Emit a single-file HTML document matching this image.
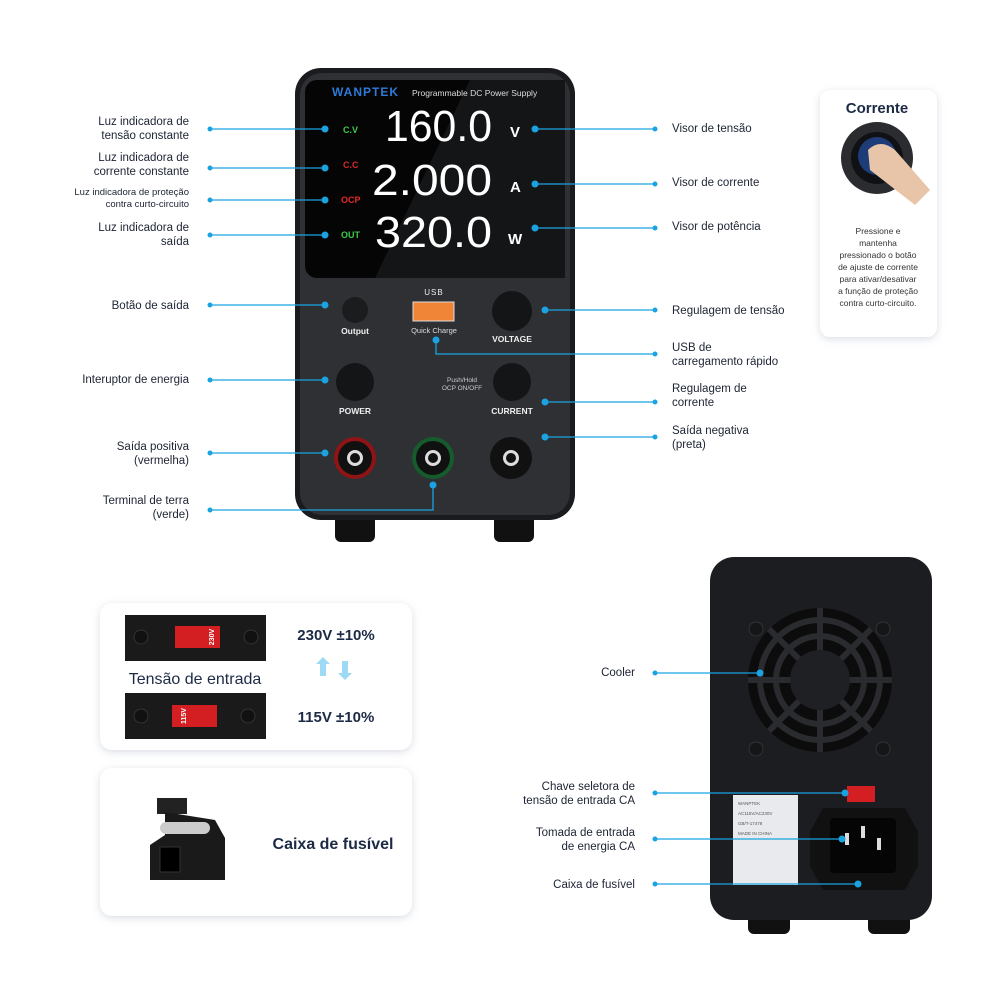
<!DOCTYPE html>
<html><head><meta charset="utf-8"><style>
html,body{margin:0;padding:0;background:#fff;}
svg{display:block;font-family:"Liberation Sans",sans-serif;}
.l{font-size:11.5px;fill:#1c2333;}
.ln{stroke:#1aa3e0;stroke-width:1.3;fill:none;}
.d{fill:#1aa3e0;}
</style></head><body>
<svg width="1000" height="1000" viewBox="0 0 1000 1000">
<defs>
<filter id="sh" x="-10%" y="-10%" width="120%" height="130%"><feDropShadow dx="0" dy="2" stdDeviation="4" flood-color="#8090a8" flood-opacity="0.3"/></filter>
</defs>
<!-- FRONT DEVICE -->
<rect x="335" y="510" width="40" height="32" rx="6" fill="#111"/>
<rect x="494" y="510" width="40" height="32" rx="6" fill="#111"/>
<rect x="295" y="68" width="280" height="452" rx="26" fill="#1a1b1e"/>
<rect x="300" y="73" width="270" height="442" rx="22" fill="#2e3034"/>
<rect x="305" y="80" width="260" height="198" rx="12" fill="#050506"/>
<polygon points="470,80 565,80 565,278 375,278" fill="#141517"/>
<text x="332" y="96" font-size="12" fill="#2f7ad8" font-weight="bold" letter-spacing="1">WANPTEK</text>
<text x="412" y="96" font-size="8.5" fill="#ddd">Programmable DC Power Supply</text>
<text x="343" y="133" font-size="9" fill="#3ec94a" font-weight="bold">C.V</text>
<text x="343" y="168" font-size="9" fill="#d72a2a" font-weight="bold">C.C</text>
<text x="341" y="203" font-size="9" fill="#e42a2a" font-weight="bold">OCP</text>
<text x="341" y="238" font-size="9" fill="#3ec94a" font-weight="bold">OUT</text>
<g font-family="Liberation Sans,sans-serif" fill="#fff" font-size="44">
<text x="385" y="141" textLength="107" lengthAdjust="spacingAndGlyphs">160.0</text>
<text x="372" y="195" textLength="120" lengthAdjust="spacingAndGlyphs">2.000</text>
<text x="375" y="247" textLength="117" lengthAdjust="spacingAndGlyphs">320.0</text>
</g>
<text x="510" y="137" font-size="15" fill="#fff" font-weight="bold">V</text>
<text x="510" y="192" font-size="15" fill="#fff" font-weight="bold">A</text>
<text x="508" y="244" font-size="15" fill="#fff" font-weight="bold">W</text>
<circle cx="355" cy="310" r="13" fill="#1b1c1e"/>
<text x="355" y="334" font-size="8.5" fill="#eee" text-anchor="middle" font-weight="bold">Output</text>
<text x="434" y="295" font-size="8" fill="#eee" text-anchor="middle" letter-spacing="1">USB</text>
<rect x="413" y="302" width="41" height="19" fill="#f08538" stroke="#ddd" stroke-width="1"/>
<text x="434" y="333" font-size="7.5" fill="#ddd" text-anchor="middle">Quick Charge</text>
<circle cx="512" cy="311" r="20" fill="#141517"/>
<text x="512" y="342" font-size="8.5" fill="#eee" text-anchor="middle" font-weight="bold">VOLTAGE</text>
<circle cx="355" cy="382" r="19" fill="#141517"/>
<text x="355" y="414" font-size="8.5" fill="#eee" text-anchor="middle" font-weight="bold">POWER</text>
<text x="462" y="382" font-size="6.5" fill="#ccc" text-anchor="middle">Push/Hold</text>
<text x="462" y="390" font-size="6.5" fill="#ccc" text-anchor="middle">OCP ON/OFF</text>
<circle cx="512" cy="382" r="19" fill="#141517"/>
<text x="512" y="414" font-size="8.5" fill="#eee" text-anchor="middle" font-weight="bold">CURRENT</text>
<g>
<circle cx="355" cy="458" r="21" fill="#8e1416"/><circle cx="355" cy="458" r="17" fill="#111"/><circle cx="355" cy="458" r="8" fill="#ddd"/><circle cx="355" cy="458" r="5" fill="#111"/>
<circle cx="433" cy="458" r="21" fill="#155b2c"/><circle cx="433" cy="458" r="17" fill="#111"/><circle cx="433" cy="458" r="8" fill="#ddd"/><circle cx="433" cy="458" r="5" fill="#111"/>
<circle cx="511" cy="458" r="21" fill="#111"/><circle cx="511" cy="458" r="8" fill="#ddd"/><circle cx="511" cy="458" r="5" fill="#111"/>
</g>
<g class="ln">
<path d="M210 129H325M210 168H325M210 200H325M210 235H325M210 305H325M210 380H325M210 453H325M210 510H433V485"/>
<path d="M535 129H655M535 184H655M535 228H655M545 310H655M436 340V354H655M545 402H655M545 437H655"/>
</g>
<g class="d">
<circle cx="210" cy="129" r="2.5"/><circle cx="325" cy="129" r="3.5"/>
<circle cx="210" cy="168" r="2.5"/><circle cx="325" cy="168" r="3.5"/>
<circle cx="210" cy="200" r="2.5"/><circle cx="325" cy="200" r="3.5"/>
<circle cx="210" cy="235" r="2.5"/><circle cx="325" cy="235" r="3.5"/>
<circle cx="210" cy="305" r="2.5"/><circle cx="325" cy="305" r="3.5"/>
<circle cx="210" cy="380" r="2.5"/><circle cx="325" cy="380" r="3.5"/>
<circle cx="210" cy="453" r="2.5"/><circle cx="325" cy="453" r="3.5"/>
<circle cx="210" cy="510" r="2.5"/><circle cx="433" cy="485" r="3.5"/>
<circle cx="535" cy="129" r="3.5"/><circle cx="655" cy="129" r="2.5"/>
<circle cx="535" cy="184" r="3.5"/><circle cx="655" cy="184" r="2.5"/>
<circle cx="535" cy="228" r="3.5"/><circle cx="655" cy="228" r="2.5"/>
<circle cx="545" cy="310" r="3.5"/><circle cx="655" cy="310" r="2.5"/>
<circle cx="436" cy="340" r="3.5"/><circle cx="655" cy="354" r="2.5"/>
<circle cx="545" cy="402" r="3.5"/><circle cx="655" cy="402" r="2.5"/>
<circle cx="545" cy="437" r="3.5"/><circle cx="655" cy="437" r="2.5"/>
</g>
<g class="l" text-anchor="end">
<text x="189" y="125">Luz indicadora de</text><text x="189" y="139">tensão constante</text>
<text x="189" y="161">Luz indicadora de</text><text x="189" y="175">corrente constante</text>
<text x="189" y="195" font-size="9.5">Luz indicadora de proteção</text><text x="189" y="207" font-size="9.5">contra curto-circuito</text>
<text x="189" y="231">Luz indicadora de</text><text x="189" y="245">saída</text>
<text x="189" y="309">Botão de saída</text>
<text x="189" y="383">Interuptor de energia</text>
<text x="189" y="450">Saída positiva</text><text x="189" y="464">(vermelha)</text>
<text x="189" y="504">Terminal de terra</text><text x="189" y="518">(verde)</text>
</g>
<g class="l">
<text x="672" y="132">Visor de tensão</text>
<text x="672" y="186">Visor de corrente</text>
<text x="672" y="230">Visor de potência</text>
<text x="672" y="314">Regulagem de tensão</text>
<text x="672" y="351">USB de</text><text x="672" y="365">carregamento rápido</text>
<text x="672" y="392">Regulagem de</text><text x="672" y="406">corrente</text>
<text x="672" y="434">Saída negativa</text><text x="672" y="448">(preta)</text>
</g>
<!-- Corrente card -->
<rect x="820" y="90" width="117" height="247" rx="10" fill="#fff" filter="url(#sh)"/>
<text x="877" y="113" font-size="15" font-weight="bold" fill="#1c2a45" text-anchor="middle">Corrente</text>
<circle cx="877" cy="158" r="36" fill="#2a2c30"/>
<circle cx="877" cy="158" r="26" fill="#0f1114"/>
<circle cx="877" cy="156" r="19" fill="#1e3d78"/>
<path d="M868 150 Q880 138 895 150 L930 190 L915 205 L870 170 Z" fill="#e8c4a8"/>
<g font-size="8.5" fill="#333" text-anchor="middle">
<text x="878" y="234">Pressione e</text><text x="878" y="246">mantenha</text>
<text x="878" y="258">pressionado o botão</text><text x="878" y="270">de ajuste de corrente</text>
<text x="878" y="282">para ativar/desativar</text><text x="878" y="294">a função de proteção</text>
<text x="878" y="306">contra curto-circuito.</text>
</g>
<!-- Tension card -->
<rect x="100" y="603" width="312" height="147" rx="12" fill="#fff" filter="url(#sh)"/>
<rect x="125" y="615" width="141" height="46" fill="#1a1a1a"/>
<circle cx="141" cy="637" r="7" fill="#111" stroke="#333"/><circle cx="251" cy="637" r="7" fill="#111" stroke="#333"/>
<rect x="175" y="626" width="45" height="22" fill="#d41f22"/>
<text x="211" y="637" font-size="7" font-weight="bold" fill="#fff" transform="rotate(-90 211 637)" text-anchor="middle" dy="3">230V</text>
<text x="195" y="684" font-size="16" fill="#1c2a45" text-anchor="middle">Tensão de entrada</text>
<rect x="125" y="693" width="141" height="46" fill="#1a1a1a"/>
<circle cx="141" cy="716" r="7" fill="#111" stroke="#333"/><circle cx="248" cy="716" r="7" fill="#111" stroke="#333"/>
<rect x="172" y="705" width="45" height="22" fill="#d41f22"/>
<text x="183" y="716" font-size="7" font-weight="bold" fill="#fff" transform="rotate(-90 183 716)" text-anchor="middle" dy="3">115V</text>
<text x="336" y="640" font-size="15" font-weight="bold" fill="#1c2a45" text-anchor="middle">230V ±10%</text>
<text x="336" y="722" font-size="15" font-weight="bold" fill="#1c2a45" text-anchor="middle">115V ±10%</text>
<path d="M323 657 L330 664 L326 664 L326 676 L320 676 L320 664 L316 664 Z" fill="#9fdaf5"/>
<path d="M345 680 L352 673 L348 673 L348 661 L342 661 L342 673 L338 673 Z" fill="#9fdaf5"/>
<!-- Fuse card -->
<rect x="100" y="768" width="312" height="148" rx="12" fill="#fff" filter="url(#sh)"/>
<rect x="157" y="798" width="30" height="16" fill="#222"/>
<path d="M165 812 L215 820 L225 838 L225 880 L150 880 L150 845 L165 835 Z" fill="#1a1a1a"/>
<rect x="160" y="822" width="50" height="12" rx="6" fill="#ccc"/>
<rect x="160" y="847" width="20" height="25" fill="#000" stroke="#333"/>
<text x="333" y="849" font-size="16" font-weight="bold" fill="#1c2a45" text-anchor="middle">Caixa de fusível</text>
<!-- REAR DEVICE -->
<rect x="748" y="900" width="42" height="34" rx="6" fill="#111"/>
<rect x="868" y="900" width="42" height="34" rx="6" fill="#111"/>
<rect x="710" y="557" width="222" height="363" rx="24" fill="#1c1d20"/>
<circle cx="820" cy="680" r="72" fill="#0c0c0d"/>
<g fill="none" stroke="#2a2b2e" stroke-width="6">
<circle cx="820" cy="680" r="60"/><circle cx="820" cy="680" r="44"/>
<path d="M820 608V752M748 680H892M769 629L871 731M871 629L769 731"/>
</g>
<circle cx="820" cy="680" r="30" fill="#1f2023"/>
<g fill="#151618" stroke="#333"><circle cx="756" cy="629" r="7"/><circle cx="883" cy="629" r="7"/><circle cx="756" cy="749" r="7"/><circle cx="883" cy="749" r="7"/></g>
<rect x="847" y="786" width="28" height="16" fill="#d41f22"/>
<rect x="733" y="795" width="65" height="90" fill="#e8eaed"/>
<g fill="#555" font-size="4.5"><text x="738" y="805">WANPTEK</text><text x="738" y="815">AC115V/AC230V</text><text x="738" y="825">GB/T-17478</text><text x="738" y="835">MADE IN CHINA</text></g>
<polygon points="823,808 905,808 918,832 918,866 905,890 823,890 810,866 810,832" fill="#111"/>
<rect x="830" y="818" width="66" height="55" rx="4" fill="#050505"/>
<g fill="#ddd"><rect x="845" y="833" width="4" height="12"/><rect x="861" y="826" width="4" height="12"/><rect x="877" y="838" width="4" height="12"/></g>
<g class="ln"><path d="M655 673H760M655 793H845M655 839H842M655 884H858"/></g>
<g class="d">
<circle cx="655" cy="673" r="2.5"/><circle cx="760" cy="673" r="3.5"/>
<circle cx="655" cy="793" r="2.5"/><circle cx="845" cy="793" r="3.5"/>
<circle cx="655" cy="839" r="2.5"/><circle cx="842" cy="839" r="3.5"/>
<circle cx="655" cy="884" r="2.5"/><circle cx="858" cy="884" r="3.5"/>
</g>
<g class="l" text-anchor="end">
<text x="635" y="676">Cooler</text>
<text x="635" y="790">Chave seletora de</text><text x="635" y="804">tensão de entrada CA</text>
<text x="635" y="836">Tomada de entrada</text><text x="635" y="850">de energia CA</text>
<text x="635" y="888">Caixa de fusível</text>
</g>
</svg>
</body></html>
